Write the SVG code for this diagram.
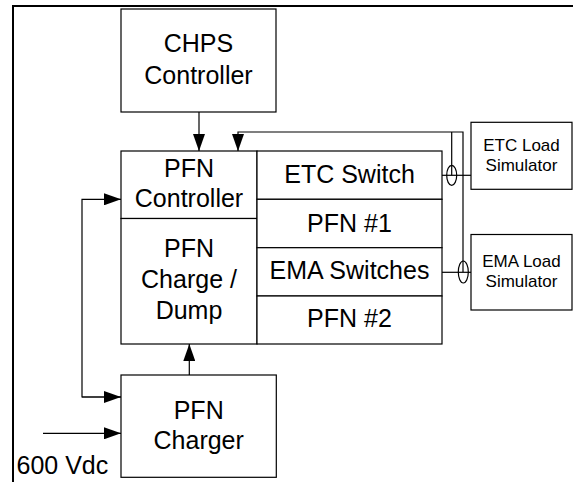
<svg xmlns="http://www.w3.org/2000/svg" width="573" height="482" viewBox="0 0 573 482">
<defs>
<style>
.box{fill:#fff;stroke:#000;stroke-width:1.2}
.ln{fill:none;stroke:#000;stroke-width:1.2}
.t{font-family:"Liberation Sans",Arial,sans-serif;font-size:25px;fill:#000;text-anchor:middle}
.s{font-family:"Liberation Sans",Arial,sans-serif;font-size:17px;fill:#000;text-anchor:middle}
</style>
<marker id="ah" markerUnits="userSpaceOnUse" markerWidth="17" markerHeight="12" refX="17" refY="6" orient="auto" viewBox="0 0 17 12">
<path d="M0,0 L17,6 L0,12 z" fill="#000"/>
</marker>
</defs>
<rect width="573" height="482" fill="#fff"/>
<path d="M13,482 V6 H573" fill="none" stroke="#000" stroke-width="2"/>

<g id="connectors">
<line class="ln" x1="199" y1="112" x2="199" y2="151" marker-end="url(#ah)"/>
<path class="ln" d="M463,272 V132 H238 V151" marker-end="url(#ah)"/>
<line class="ln" x1="451.7" y1="132" x2="451.7" y2="175.3"/>
<line class="ln" x1="442" y1="175.3" x2="471" y2="175.3"/>
<ellipse class="ln" cx="451.7" cy="175.3" rx="5" ry="10"/>
<line class="ln" x1="442" y1="272.3" x2="471" y2="272.3"/>
<ellipse class="ln" cx="463.3" cy="272" rx="5" ry="11"/>
<path class="ln" d="M121,397 H82 V199.3 H121" marker-end="url(#ah)"/>
<line class="ln" x1="82" y1="397" x2="121" y2="397" marker-end="url(#ah)"/>
<line class="ln" x1="43" y1="433.3" x2="121" y2="433.3" marker-end="url(#ah)"/>
<line class="ln" x1="189.3" y1="375" x2="189.3" y2="344" marker-end="url(#ah)"/>
</g>

<g id="chps">
<rect class="box" x="121" y="9" width="155" height="103"/>
<text class="t" x="198.5" y="52.3">CHPS</text>
<text class="t" x="198.5" y="84">Controller</text>
</g>

<g id="pfn-controller">
<rect class="box" x="121" y="151" width="136" height="67.5"/>
<text class="t" x="189" y="176.7">PFN</text>
<text class="t" x="189" y="206.7">Controller</text>
</g>

<g id="pfn-charge-dump">
<rect class="box" x="121" y="218.5" width="136" height="125.5"/>
<text class="t" x="189" y="256.7">PFN</text>
<text class="t" x="189" y="287.5">Charge /</text>
<text class="t" x="189" y="318.5">Dump</text>
</g>

<g id="etc-switch">
<rect class="box" x="257" y="151" width="185" height="48.3"/>
<text class="t" x="349.5" y="183.3">ETC Switch</text>
</g>

<g id="pfn1">
<rect class="box" x="257" y="199.3" width="185" height="48.4"/>
<text class="t" x="349.5" y="231.7">PFN #1</text>
</g>

<g id="ema-switches">
<rect class="box" x="257" y="247.7" width="185" height="48.3"/>
<text class="t" x="349.5" y="279">EMA Switches</text>
</g>

<g id="pfn2">
<rect class="box" x="257" y="296" width="185" height="48"/>
<text class="t" x="349.5" y="327.3">PFN #2</text>
</g>

<g id="etc-load">
<rect class="box" x="471" y="122.3" width="101" height="67"/>
<text class="s" x="521.5" y="151.3">ETC Load</text>
<text class="s" x="521.5" y="171.3">Simulator</text>
</g>

<g id="ema-load">
<rect class="box" x="471" y="234.5" width="101" height="75.5"/>
<text class="s" x="521.5" y="267.3">EMA Load</text>
<text class="s" x="521.5" y="286.7">Simulator</text>
</g>

<g id="pfn-charger">
<rect class="box" x="121" y="375" width="155.3" height="102.3"/>
<text class="t" x="198.7" y="419">PFN</text>
<text class="t" x="198.7" y="449">Charger</text>
</g>

<text x="16.5" y="474.3" font-family="Liberation Sans, Arial, sans-serif" font-size="25" fill="#000">600 Vdc</text>
</svg>
